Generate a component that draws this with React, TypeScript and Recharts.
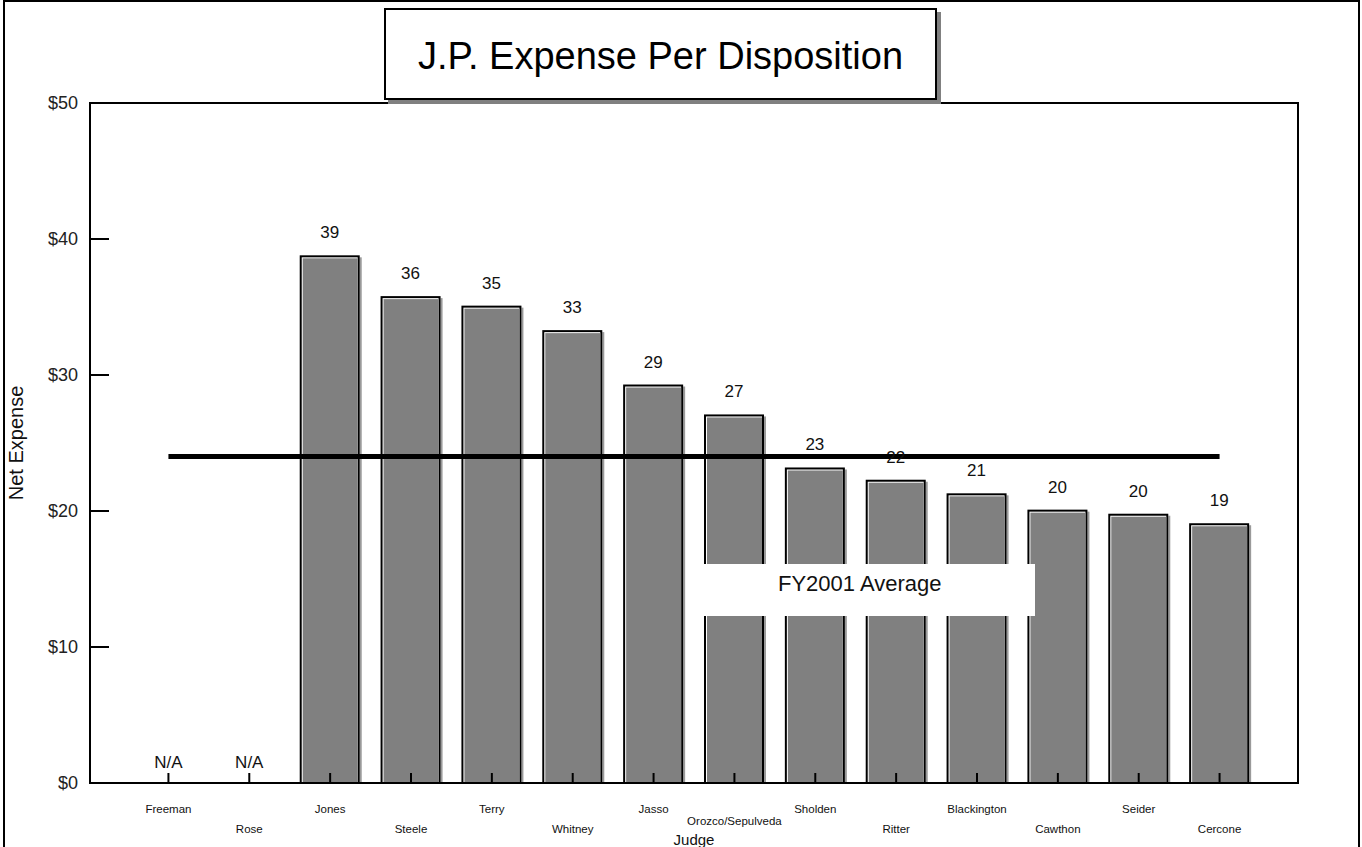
import React from 'react';
import { ComposedChart, Bar, Line, XAxis, YAxis, LabelList } from 'recharts';

const judges = ['Freeman', 'Rose', 'Jones', 'Steele', 'Terry', 'Whitney', 'Jasso', 'Orozco/Sepulveda', 'Sholden', 'Ritter', 'Blackington', 'Cawthon', 'Seider', 'Cercone'];
const expense: (number | null)[] = [null, null, 38.8, 35.8, 35.1, 33.3, 29.3, 27.1, 23.2, 22.3, 21.3, 20.1, 19.8, 19.1];
const fyAverage = 24.0;
const yTicks = [0, 10, 20, 30, 40, 50];
const titleText = 'J.P. Expense Per Disposition';
const averageText = 'FY2001 Average';

const data = judges.map((j, i) => ({ judge: j, expense: expense[i], avg: fyAverage }));

const FONT = '"Liberation Sans", Arial, sans-serif';

const BarShape = (props: any) => {
  const { x, y, width, height } = props;
  if (height == null || height <= 0) return null;
  return (
    <g>
      <rect x={x + width} y={y + 2} width={2} height={height - 2} fill="#9a9a9a" />
      <rect x={x} y={y} width={width} height={height} fill="#000" />
      <rect x={x + 2} y={y + 2} width={width - 4} height={height - 2} fill="#fff" />
      <rect x={x + 3} y={y + 3} width={width - 5} height={height - 3} fill="#808080" />
    </g>
  );
};

const XTick = (props: any) => {
  const { x, y, payload } = props;
  const idx = judges.indexOf(payload.value);
  const isNA = expense[idx] == null;
  const long = String(payload.value).length > 12;
  const labelY = idx % 2 === 0 ? y + 29.5 : long ? y + 41.5 : y + 50;
  return (
    <g>
      <line x1={x} x2={x} y1={y - 10} y2={y} stroke="#000" strokeWidth={2} />
      {isNA && (
        <text x={x} y={y - 15} textAnchor="middle" fontSize={17} fill="#111" fontFamily={FONT}>N/A</text>
      )}
      <text x={x} y={labelY} textAnchor="middle" fontSize={11.5} fill="#111" fontFamily={FONT}>{payload.value}</text>
    </g>
  );
};

const YTick = (props: any) => {
  const { x, y, payload } = props;
  const v = payload.value;
  return (
    <g>
      <text x={x} y={y} dy={6} textAnchor="end" fontSize={18} fill="#222" fontFamily={FONT}>{'$' + v}</text>
      {v > 0 && v < 50 && <line x1={x + 12} x2={x + 31} y1={y} y2={y} stroke="#000" strokeWidth={2} />}
    </g>
  );
};

const YLabel = (props: any) => {
  const vb = props.viewBox || { x: 30, y: 103, width: 60, height: 680 };
  const cx = vb.x - 14;
  const cy = vb.y + vb.height / 2;
  return (
    <text x={cx} y={cy} transform={`rotate(-90, ${cx}, ${cy})`} textAnchor="middle" dominantBaseline="central" fontSize={20} fill="#111" fontFamily={FONT}>Net Expense</text>
  );
};

const XLabel = (props: any) => {
  const vb = props.viewBox || { x: 90, y: 783, width: 1208, height: 50 };
  return (
    <text x={vb.x + vb.width / 2} y={vb.y + 62} textAnchor="middle" fontSize={15} fill="#111" fontFamily={FONT}>Judge</text>
  );
};

export default function App() {
  return (
    <div style={{ position: 'absolute', left: 0, top: 0, width: 1362, height: 847, background: '#fff', fontFamily: FONT, overflow: 'hidden' }}>
      <div style={{ position: 'absolute', left: 3, top: 0, width: 1357, height: 900, border: '2px solid #000', boxSizing: 'border-box', pointerEvents: 'none' }} />
      <div style={{ position: 'absolute', left: 89, top: 102, width: 1210, height: 682, border: '2px solid #000', boxSizing: 'border-box', pointerEvents: 'none' }} />
      <div style={{ position: 'absolute', left: 0, top: 0 }}>
        <ComposedChart width={1362} height={847} data={data} margin={{ top: 103, right: 64, bottom: 14, left: 30 }}>
          <XAxis
            dataKey="judge"
            interval={0}
            tick={<XTick />}
            tickSize={0}
            tickMargin={0}
            tickLine={false}
            axisLine={{ stroke: '#000', strokeWidth: 2 }}
            height={50}
            padding={{ left: 38, right: 38 }}
            label={<XLabel />}
          />
          <YAxis
            domain={[0, 50]}
            ticks={yTicks}
            tick={<YTick />}
            tickSize={0}
            tickMargin={12}
            tickLine={false}
            axisLine={{ stroke: '#000', strokeWidth: 2 }}
            width={60}
            label={<YLabel />}
          />
          <Bar dataKey="expense" barSize={60} shape={<BarShape />} isAnimationActive={false}>
            <LabelList
              dataKey="expense"
              position="top"
              offset={17}
              formatter={(v: any) => (v == null ? '' : Math.round(v))}
              style={{ fontSize: 17, fill: '#111', fontFamily: FONT }}
            />
          </Bar>
          <Line dataKey="avg" type="linear" stroke="#000" strokeWidth={5} dot={false} activeDot={false} isAnimationActive={false} />
        </ComposedChart>
      </div>
      <div style={{ position: 'absolute', left: 703, top: 564, width: 332, height: 52, background: '#fff', boxSizing: 'border-box', paddingTop: 7, paddingLeft: 75, textAlign: 'left', fontSize: 22, lineHeight: 'normal', color: '#111', whiteSpace: 'nowrap' }}>
        {averageText}
      </div>
      <div style={{ position: 'absolute', left: 384, top: 8, width: 553, height: 92, background: '#fff', border: '2px solid #000', boxSizing: 'border-box', boxShadow: '4px 4px 0 #808080', display: 'flex', alignItems: 'center', justifyContent: 'center', paddingTop: 5, fontSize: 38, color: '#000' }}>
        {titleText}
      </div>
    </div>
  );
}
